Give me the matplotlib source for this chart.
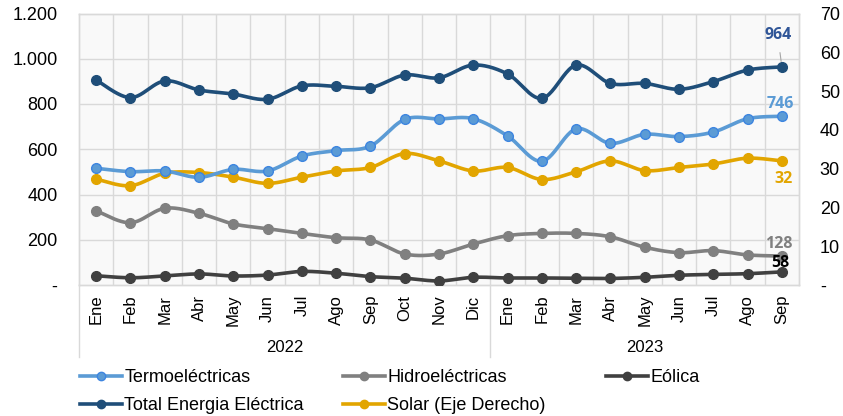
import numpy as np
import matplotlib
matplotlib.use("Agg")
import matplotlib.pyplot as plt
from matplotlib.ticker import FuncFormatter, MultipleLocator
from matplotlib.lines import Line2D

plt.rcParams['font.family'] = ['Liberation Sans', 'DejaVu Sans']

# ---- data -------------------------------------------------------------
months = ["Ene", "Feb", "Mar", "Abr", "May", "Jun", "Jul", "Ago", "Sep", "Oct", "Nov", "Dic",
          "Ene", "Feb", "Mar", "Abr", "May", "Jun", "Jul", "Ago", "Sep"]
years = ["2022", "2023"]
year_lengths = [12, 9]

termo = [516, 501, 504, 476, 511, 504, 570, 594, 614, 732, 734, 735,
         659, 547, 690, 626, 666, 656, 676, 735, 746]
hidro = [328, 275, 339, 317, 270, 249, 228, 209, 199, 137, 137, 181,
         218, 228, 228, 213, 167, 143, 152, 133, 128]
eolica = [41, 32, 40, 49, 40, 44, 60, 52, 37, 30, 18, 34,
          31, 31, 30, 29, 34, 43, 47, 50, 58]
total = [906, 828, 902, 862, 844, 821, 880, 878, 872, 928, 916, 972,
         933, 825, 972, 891, 891, 865, 899, 950, 964]
solar = [27.3, 25.6, 28.8, 29.0, 27.8, 26.2, 27.8, 29.4, 30.3, 33.9, 32.0, 29.4,
         30.3, 27.2, 29.2, 32.0, 29.5, 30.3, 31.2, 32.7, 32.0]

C_TERMO = "#5B9BD5"
C_TERMO_EDGE = "#3D85E0"
C_HIDRO = "#808080"
C_EOLICA = "#404040"
C_TOTAL = "#1F4E79"
C_SOLAR = "#E2A500"


def smooth(y, steps=24):
    """Catmull-Rom curve through the points, like a spreadsheet 'smoothed line'."""
    y = np.asarray(y, dtype=float)
    x = np.arange(len(y), dtype=float)
    px = np.concatenate([[x[0]], x, [x[-1]]])
    py = np.concatenate([[y[0]], y, [y[-1]]])
    xs, ys = [], []
    t = np.linspace(0, 1, steps, endpoint=False)
    for i in range(1, len(px) - 2):
        p0x, p1x, p2x, p3x = px[i - 1], px[i], px[i + 1], px[i + 2]
        p0y, p1y, p2y, p3y = py[i - 1], py[i], py[i + 1], py[i + 2]
        c1x, c1y = p1x + (p2x - p0x) / 6, p1y + (p2y - p0y) / 6
        c2x, c2y = p2x - (p3x - p1x) / 6, p2y - (p3y - p1y) / 6
        b = lambda a, c, d, e: ((1 - t) ** 3) * a + 3 * ((1 - t) ** 2) * t * c + 3 * (1 - t) * t ** 2 * d + t ** 3 * e
        xs.append(b(p1x, c1x, c2x, p2x))
        ys.append(b(p1y, c1y, c2y, p2y))
    xs.append([x[-1]])
    ys.append([y[-1]])
    return np.concatenate(xs), np.concatenate(ys)


fig = plt.figure(figsize=(8.43, 4.16), dpi=100)
ax = fig.add_axes([79 / 843, 1 - 285 / 416, 720 / 843, 271.5 / 416])
ax2 = ax.twinx()
ax.set_zorder(ax2.get_zorder() + 1)
ax.patch.set_visible(False)
ax2.patch.set_visible(True)
ax2.patch.set_facecolor("#F9F9F9")

n = len(months)
xi = np.arange(n)
lw = 2.6
ms = 7


def draw(axis, vals, color, mfc, mec, zorder):
    sx, sy = smooth(vals)
    axis.plot(sx, sy, color=color, lw=lw, solid_capstyle="round", zorder=zorder)
    axis.plot(xi, vals, ls="none", marker="o", ms=ms, mfc=mfc, mec=mec, mew=1.0, zorder=zorder + 0.1)


draw(ax, eolica, C_EOLICA, C_EOLICA, C_EOLICA, 3)
draw(ax, hidro, C_HIDRO, C_HIDRO, C_HIDRO, 3)
draw(ax, termo, C_TERMO, C_TERMO, C_TERMO_EDGE, 3)
draw(ax, total, C_TOTAL, C_TOTAL, C_TOTAL, 3)
draw(ax2, solar, C_SOLAR, C_SOLAR, C_SOLAR, 3)

# axes ranges / grid
ax.set_xlim(-0.5, n - 0.5)
ax.set_ylim(0, 1200)
ax2.set_ylim(0, 70)
ax.yaxis.set_major_locator(MultipleLocator(200))
ax2.yaxis.set_major_locator(MultipleLocator(10))


def left_fmt(v, _):
    if abs(v) < 1e-9:
        return "-"
    return f"{int(round(v)):,}".replace(",", ".")


def right_fmt(v, _):
    if abs(v) < 1e-9:
        return "-"
    return f"{int(round(v))}"


ax.yaxis.set_major_formatter(FuncFormatter(left_fmt))
ax2.yaxis.set_major_formatter(FuncFormatter(right_fmt))

grid_c = "#D9D9D9"
for yv in range(200, 1200, 200):
    ax2.axhline(yv * 70 / 1200, color=grid_c, lw=1.0, zorder=0)
for xv in np.arange(0.5, n - 0.5, 1):
    ax2.axvline(xv, color=grid_c, lw=1.0, zorder=0)

for a in (ax, ax2):
    for s in a.spines.values():
        s.set_color(grid_c)
        s.set_linewidth(1.0)
    a.tick_params(axis="both", length=0, labelsize=13, colors="#000000")

ax.tick_params(axis="y", pad=15.5)
ax2.tick_params(axis="y", pad=15)

ax.set_xticks(xi)
ax.set_xticklabels(months, rotation=90, fontsize=12)
ax.tick_params(axis="x", pad=7)

# year groups under the month labels
start = 0
sep_depth = (357 - 285) / 271.5
trans = ax.get_xaxis_transform()
ax.add_line(Line2D([-0.5, -0.5], [0, -sep_depth], transform=trans, color=grid_c, lw=1.0, clip_on=False))
for yr, ln in zip(years, year_lengths):
    mid = start + (ln - 1) / 2
    ax.text(mid, -(347 - 285) / 271.5, yr, transform=trans, ha="center", va="center", fontsize=12)
    start += ln
    if start < n:
        ax.add_line(Line2D([start - 0.5, start - 0.5], [0, -sep_depth], transform=trans,
                           color=grid_c, lw=1.0, clip_on=False))

# value labels at the last month
last = n - 1
lab_kw = dict(fontsize=11.5, fontweight="bold", family=["Open Sans", "DejaVu Sans"],
              ha="center", va="center", zorder=10)
ax.annotate(str(total[-1]), xy=(last, total[-1]), xytext=(-3, 23), textcoords="offset points",
            color="#2F5597", arrowprops=dict(arrowstyle="-", color="#A6A6A6", lw=0.8, shrinkA=5, shrinkB=4), **lab_kw)
ax.annotate(str(termo[-1]), xy=(last, termo[-1]), xytext=(-1, 9), textcoords="offset points",
            color=C_TERMO, **lab_kw)
ax2.annotate(f"{solar[-1]:.0f}", xy=(last, solar[-1]), xytext=(1, -13), textcoords="offset points",
             color=C_SOLAR, **lab_kw)
ax.annotate(str(hidro[-1]), xy=(last, hidro[-1]), xytext=(-2, 9), textcoords="offset points",
            color=C_HIDRO, **lab_kw)
ax.annotate(str(eolica[-1]), xy=(last, eolica[-1]), xytext=(-1, 6.5), textcoords="offset points",
            color="#000000", **lab_kw)


# legend, three columns laid out like the spreadsheet original
def handle(color, mfc, mec):
    return Line2D([], [], color=color, lw=lw, marker="o", ms=ms - 1, mfc=mfc, mec=mec)


columns = [
    ([handle(C_TERMO, C_TERMO, C_TERMO_EDGE), handle(C_TOTAL, C_TOTAL, C_TOTAL)],
     ["Termoeléctricas", "Total Energia Eléctrica"], 80),
    ([handle(C_HIDRO, C_HIDRO, C_HIDRO), handle(C_SOLAR, C_SOLAR, C_SOLAR)],
     ["Hidroeléctricas", "Solar (Eje Derecho)"], 343),
    ([handle(C_EOLICA, C_EOLICA, C_EOLICA)], ["Eólica"], 606),
]
for hs, ls, xpx in columns:
    fig.legend(hs, ls, loc="upper left", bbox_to_anchor=(xpx / 843, 1 - 369 / 416),
               frameon=False, fontsize=13, handlelength=2.3, handletextpad=0.15,
               borderpad=0, borderaxespad=0, labelspacing=0.62)

fig.savefig("out.png", dpi=100, facecolor="white")
